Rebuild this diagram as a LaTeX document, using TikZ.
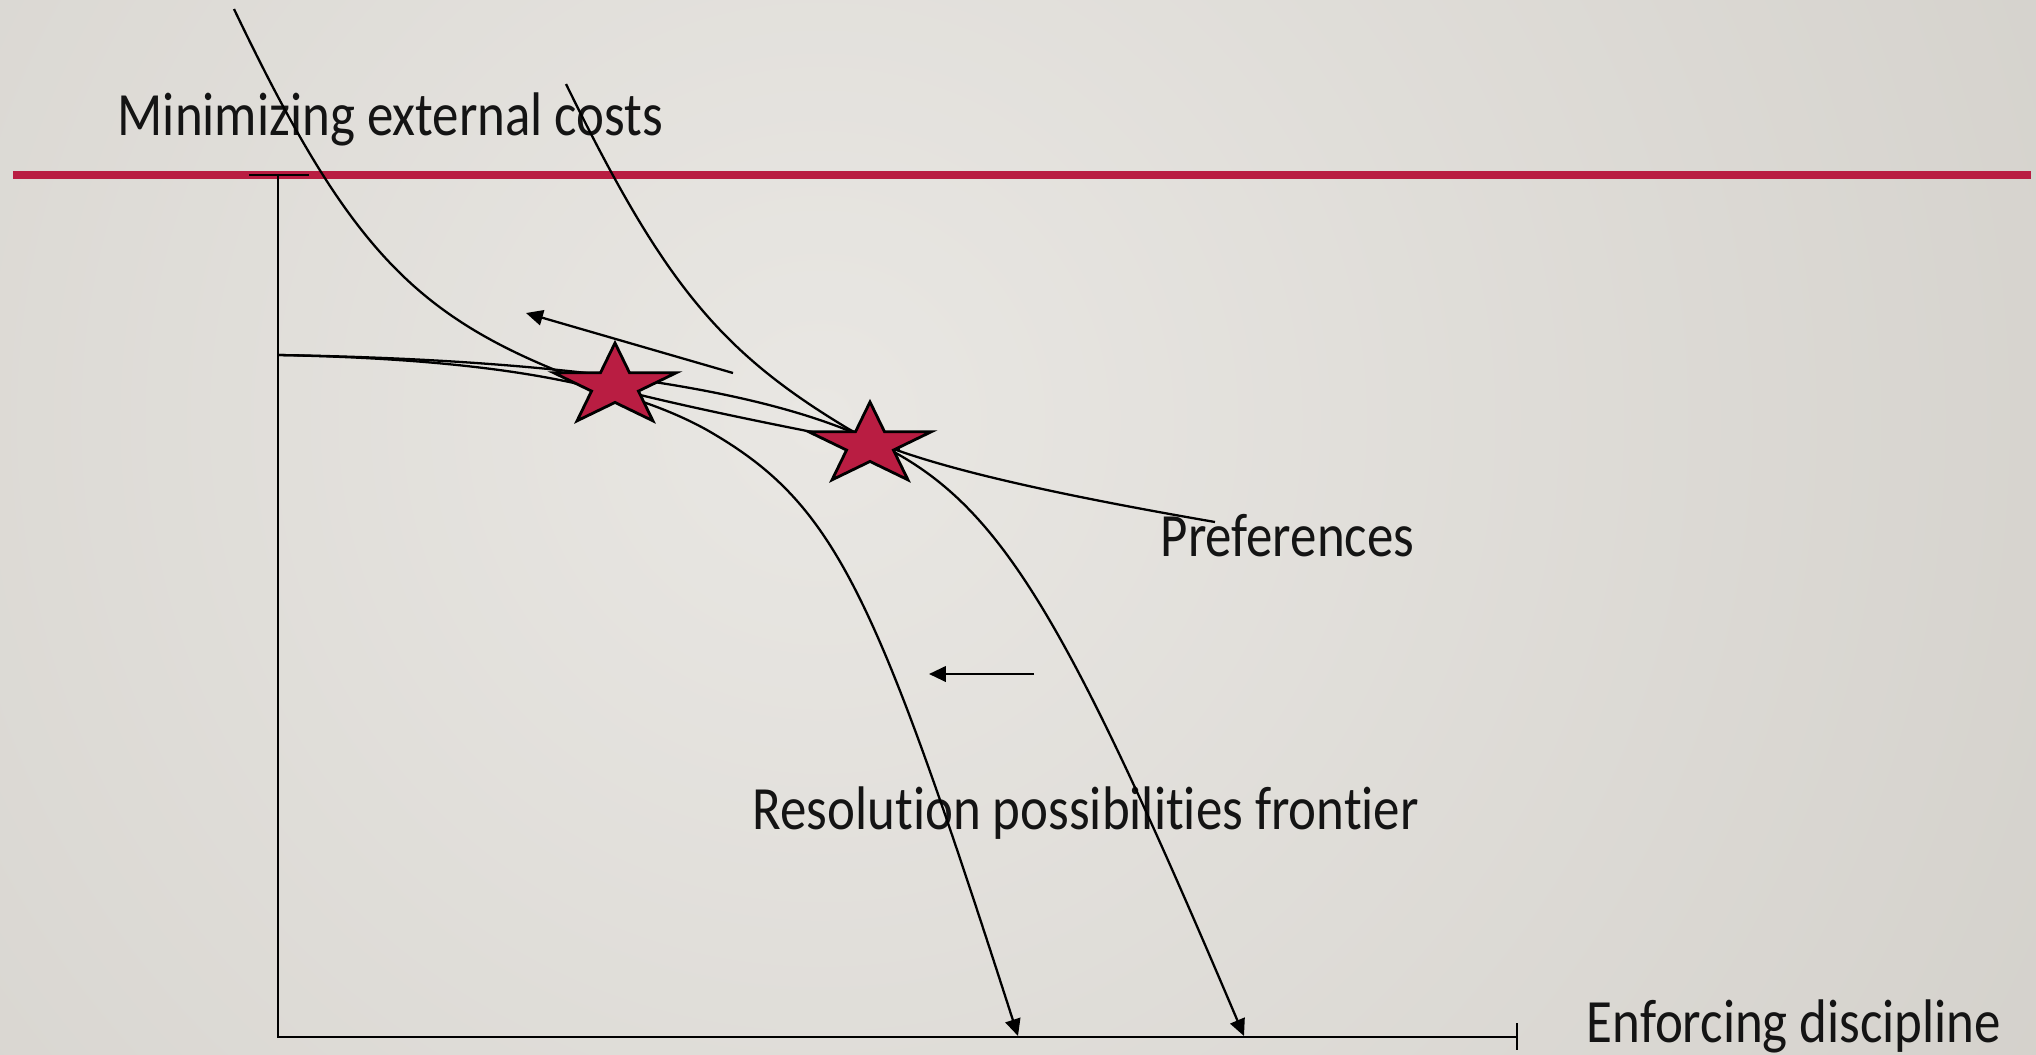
\documentclass[tikz,border=0pt]{standalone}
\usepackage{fontspec}
\setmainfont{Carlito}[FakeStretch=0.86, Ligatures=CommonOff]
\usepackage{xcolor}
\usepackage{tikz}
\usetikzlibrary{positioning,arrows.meta,shapes.geometric}
\definecolor{slidered}{RGB}{185,29,66}
\definecolor{bglight}{RGB}{233,231,227}
\definecolor{bgdark}{RGB}{206,203,197}

\begin{document}
\begin{tikzpicture}[
  x=0.01cm, y=-0.01cm,
  >={Triangle[length=4.8pt,width=4.4pt]},
  every node/.style={font=\fontsize{17.5}{21}\selectfont, text=black!92, inner sep=0pt},
  curve/.style={line width=0.65pt},
  axis/.style={line width=0.65pt},
  prefstar/.style={star, star points=5, star point ratio=2.618, minimum size=0.86cm,
    transform shape, fill=slidered, draw=black, line width=0.8pt}]
  \useasboundingbox (0,0) rectangle (2036,1054);
  \begin{scope}
    \clip (0,0) rectangle (2036,1054);
    \shade[inner color=bglight, outer color=bgdark] (820,420) circle (1800);
  \end{scope}

  % title rule and axes
  \draw[slidered, line width=2pt] (13,175) -- (2031,175);
  \coordinate (origin) at (278,1037);
  \coordinate (ytop) at (278,175);
  \coordinate (xend) at (1517,1037);
  \draw[axis] (ytop) -- (origin) -- (xend);
  \draw[axis] (249,175) -- (309,175);
  \draw[axis] (1517,1023) -- (1517,1050);

  \node[anchor=base west] (ylabel) at (117,135) {Minimizing external costs};
  \node[anchor=base west] (xlabel) at (1586,1042) {Enforcing discipline};
  \node[anchor=base west] (preflabel) at (1160,556) {Preferences};
  \node[anchor=base west] (rpflabel) at (752,829) {Resolution possibilities frontier};

  % indifference curves
  \draw[curve] (234,9) .. controls (344,239) and (409,311) .. (560,372)
    .. controls (620,395) and (800,430) .. (900,449);
  \draw[curve] (566,84) .. controls (663,282) and (719,351) .. (847,428)
    .. controls (907,464) and (1065,496) .. (1215,522);

  % frontiers
  \draw[curve,->] (278,355) .. controls (478,359) and (617,380) .. (707,430)
    .. controls (834,503) and (873,585) .. (1018,1036);
  \draw[curve,->] (278,355) .. controls (528,359) and (727,382) .. (847,430)
    .. controls (989,487) and (1049,577) .. (1244,1036);

  % shifts
  \coordinate (tiltfrom) at (733,373);
  \coordinate (tiltto) at (526,313);
  \draw[curve,->] (tiltfrom) -- (tiltto);
  \coordinate (movefrom) at (1034,674);
  \coordinate (moveto) at (929,674);
  \draw[curve,->] (movefrom) -- (moveto);

  \begin{scope}[shift={(615,386)}, xscale=1.5]
    \node[prefstar] (lowstar) {};
  \end{scope}
  \begin{scope}[shift={(870,445)}, xscale=1.5]
    \node[prefstar] (highstar) {};
  \end{scope}
\end{tikzpicture}
\end{document}
